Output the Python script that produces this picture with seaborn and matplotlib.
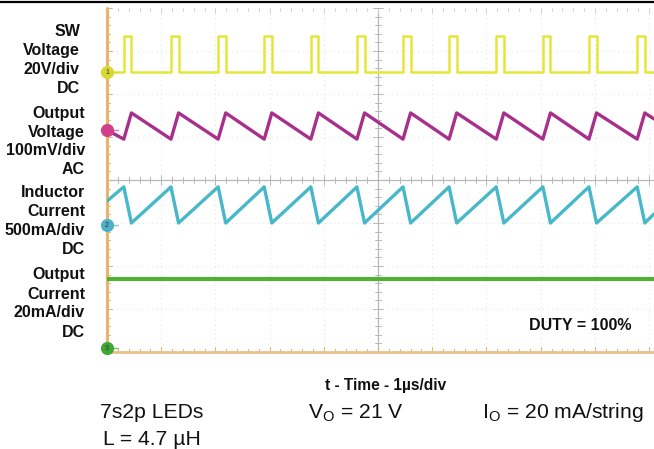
import matplotlib
matplotlib.use("Agg")
import matplotlib.pyplot as plt
import seaborn as sns
import pandas as pd
from matplotlib.lines import Line2D
from matplotlib import font_manager

# ---------------- data (read from the scope capture) ----------------
# time axis in µs (1 µs/div), vertical axis in divisions (0..8)
pulse_starts = [0.31, 1.18, 2.05, 2.90, 3.76, 4.61, 5.46, 6.31, 7.18, 8.04, 8.89, 9.78]
pulse_width = 0.14
x_end = 10.09

sw_low, sw_high = 6.51, 7.35
vout_start, vout_trough, vout_peak, vout_end = 5.16, 4.95, 5.56, 5.42
il_start, il_peak, il_trough, il_end = 3.51, 3.84, 3.00, 3.21
iout_level = 1.70

marker_levels = [6.51, 5.16, 2.95, 0.09]
marker_labels = ["1", "", "2", "3"]

label_blocks = [
    ["SW", "Voltage", "20V/div", "DC"],
    ["Output", "Voltage", "100mV/div", "AC"],
    ["Inductor", "Current", "500mA/div", "DC"],
    ["Output", "Current", "20mA/div", "DC"],
]
duty_text = "DUTY = 100%"
xlabel_text = "t - Time - 1µs/div"
cond_texts = ["7s2p LEDs", r"V$_{\mathregular{O}}$ = 21 V",
              r"I$_{\mathregular{O}}$ = 20 mA/string", "L = 4.7 µH"]

# ---------------- build traces ----------------
sw_x, sw_y = [0.0], [sw_low]
for s in pulse_starts:
    sw_x += [s, s, s + pulse_width, s + pulse_width]
    sw_y += [sw_low, sw_high, sw_high, sw_low]
sw_x.append(x_end); sw_y.append(sw_low)

vo_x, vo_y = [0.0], [vout_start]
for s in pulse_starts:
    vo_x += [s, s + pulse_width]
    vo_y += [vout_trough, vout_peak]
vo_x.append(x_end); vo_y.append(vout_end)

il_x, il_y = [0.0], [il_start]
for s in pulse_starts:
    il_x += [s, s + pulse_width]
    il_y += [il_peak, il_trough]
il_x.append(x_end); il_y.append(il_end)

io_x, io_y = [0.0, x_end], [iout_level, iout_level]

# ---------------- figure ----------------
sns.set_style("white")
plt.rcParams["font.family"] = ["Liberation Sans", "DejaVu Sans"]
installed = {f.name for f in font_manager.fontManager.ttflist}
if "Liberation Sans Narrow" in installed:
    cond_font, cond_fs = ["Liberation Sans Narrow", "Liberation Sans"], 18
else:
    cond_font, cond_fs = ["Liberation Sans", "DejaVu Sans"], 15.2

W, H = 654, 449
fig = plt.figure(figsize=(W / 100, H / 100), dpi=100)
fig.patch.set_facecolor("white")

def fx(x):
    return x / W

def fy(y):
    return 1 - y / H

ax = fig.add_axes([fx(107), fy(352), (W - 107) / W, 344 / H])
ax.set_xlim(0, x_end)
ax.set_ylim(0, 8)
for sp in ax.spines.values():
    sp.set_visible(False)
ax.set_xticks([]); ax.set_yticks([])

# grid
grid_c = "#e6e6e6"
for i in range(1, 11):
    if i == 5:
        continue
    ax.axvline(i, color=grid_c, lw=0.8, ls=(0, (1, 3)), zorder=0)
for j in range(1, 8):
    if j == 4:
        continue
    ax.axhline(j, color=grid_c, lw=0.8, ls=(0, (1, 3)), zorder=0)
center_c = "#b8b8b8"
ax.axvline(5, color=center_c, lw=0.9, zorder=0.5)
ax.axhline(4, color=center_c, lw=0.9, zorder=0.5)
for k in range(0, 51):
    t = k * 0.2
    ln = 0.08 if k % 5 else 0.12
    ax.plot([t, t], [4 - ln, 4 + ln], color=center_c, lw=0.7, zorder=0.5)
    ax.plot([t, t], [8, 8 - ln], color="#d2d2d2", lw=0.7, zorder=0.5, clip_on=False)
    ax.plot([t, t], [0, ln], color="#d8b27a", lw=0.7, zorder=0.5)
for k in range(0, 41):
    v = k * 0.2
    ln = 0.06 if k % 5 else 0.1
    ax.plot([5 - ln, 5 + ln], [v, v], color=center_c, lw=0.7, zorder=0.5)
    ax.plot([0, ln], [v, v], color="#d8b27a", lw=0.7, zorder=0.5)

# orange frame (left + bottom)
ax.plot([0, 0], [0, 8], color="#e9b56c", lw=2.2, zorder=3, clip_on=False)
ax.plot([0, x_end], [0, 0], color="#e9c08a", lw=2.0, zorder=3, clip_on=False)

# traces
sns.lineplot(x=sw_x, y=sw_y, sort=False, estimator=None, ax=ax,
             color="#e6e63a", lw=1.8, zorder=4)
sns.lineplot(x=vo_x, y=vo_y, sort=False, estimator=None, ax=ax,
             color="#a8308c", lw=2.4, zorder=4)
sns.lineplot(x=il_x, y=il_y, sort=False, estimator=None, ax=ax,
             color="#46b8c9", lw=2.4, zorder=4)
sns.lineplot(x=io_x, y=io_y, sort=False, estimator=None, ax=ax,
             color="#52b134", lw=3.0, zorder=4)

# channel markers
mcols = ["#d8d830", "#d0408c", "#4fb0c8", "#40a838"]
for lvl, lab, c in zip(marker_levels, marker_labels, mcols):
    ax.plot([0], [lvl], "o", ms=8.5, color=c, mec=c, zorder=6, clip_on=False)
    if lab:
        ax.text(0, lvl, lab, ha="center", va="center", fontsize=5,
                color="#333333", zorder=7, clip_on=False)
    ax.plot([0.08, 0.2], [lvl, lvl], color=c, lw=1.0, zorder=6, alpha=0.7)

# left labels
block_rows = [[30, 49, 68, 87], [112, 131, 149, 168], [191, 210, 229, 248], [273, 293, 311, 331]]
block_right = [80, 85, 85, 85]
fs = 11.5
em = fs * 100 / 72
for lines, rows, xr in zip(label_blocks, block_rows, block_right):
    for txt, yc in zip(lines, rows):
        fig.text(fx(xr), fy(yc + 0.36 * em), txt, ha="right", va="baseline",
                 fontsize=fs, fontweight="bold", color="#111111")

# duty text
fig.text(fx(529), fy(324 + 0.36 * em), duty_text, ha="left", va="baseline",
         fontsize=fs, fontweight="bold", color="#111111")

# x label
fig.text(fx(386), fy(390), xlabel_text, ha="center", va="baseline",
         fontsize=11.2, fontweight="bold", color="#111111")

# conditions
cond_pos = [(100, 418), (308, 418), (482, 418), (103, 445)]
for txt, (px, py) in zip(cond_texts, cond_pos):
    fig.text(fx(px), fy(py), txt, ha="left", va="baseline", fontsize=cond_fs,
             family=cond_font, color="#111111")

# top black rule
fig.add_artist(Line2D([0, 1], [fy(1.5), fy(1.5)], color="black", lw=1.6,
                      transform=fig.transFigure))

fig.savefig("out.png", dpi=100, facecolor="white")
